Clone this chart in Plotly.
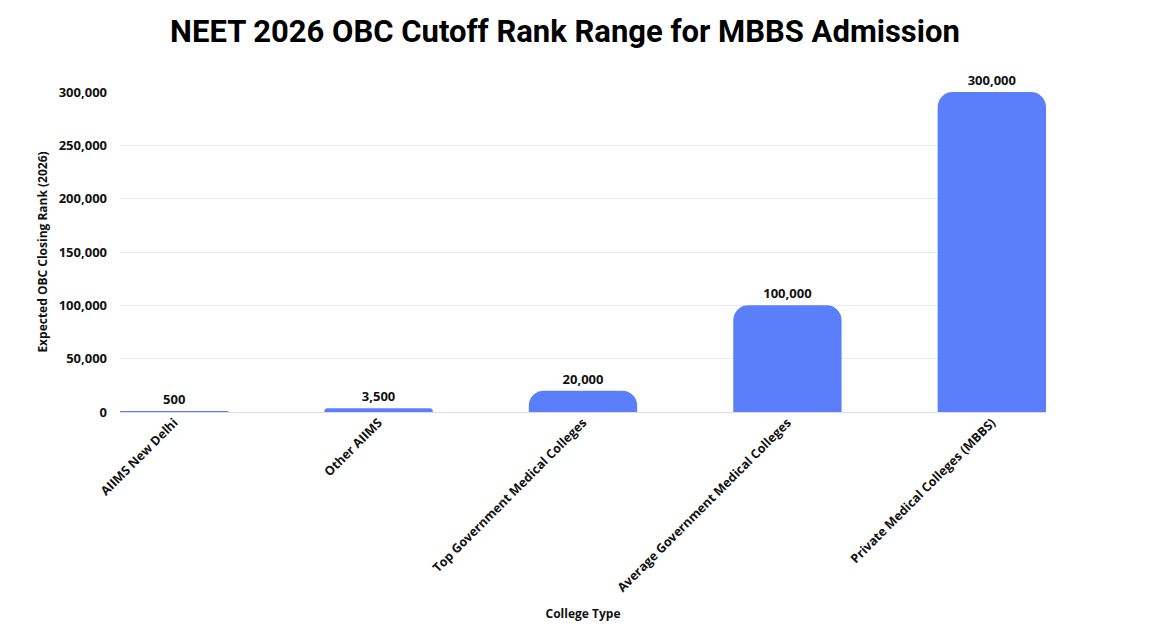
import plotly.graph_objects as go

categories = ["AIIMS New Delhi", "Other AIIMS", "Top Government Medical Colleges",
              "Average Government Medical Colleges", "Private Medical Colleges (MBBS)"]
closing_rank = [500, 3500, 20000, 100000, 300000]
y_ticks = [0, 50000, 100000, 150000, 200000, 250000, 300000]
y_tick_labels = ["0", "50,000", "100,000", "150,000", "200,000", "250,000", "300,000"]

bar_color = "#5b7ffa"
font_fam = "Open Sans"
bargap = 0.47
half = (1 - bargap) / 2

fig = go.Figure(go.Bar(
    x=list(range(len(categories))),
    y=closing_rank,
    marker=dict(color=bar_color, cornerradius=15, line=dict(width=0)),
    text=[f"{v:,}" for v in closing_rank],
    textposition="outside",
    cliponaxis=False,
    textfont=dict(family=font_fam, size=13, color="#111111", weight="bold"),
    hoverinfo="skip",
))

fig.update_layout(
    width=1162, height=627,
    paper_bgcolor="white", plot_bgcolor="white",
    margin=dict(l=120, r=116, t=92, b=215),
    bargap=bargap,
    showlegend=False,
    title=dict(text="NEET 2026 OBC Cutoff Rank Range for MBBS Admission",
               x=565 / 1162, xanchor="center", y=1 - 31 / 627, yanchor="middle",
               font=dict(family="Roboto", size=31, color="#000000", weight="bold")),
    xaxis=dict(
        automargin=False,
        tickmode="array", tickvals=list(range(len(categories))), ticktext=categories,
        tickangle=-45, range=[-half, len(categories) - 1 + half],
        showgrid=False, showline=False, zeroline=False, ticks="",
        tickfont=dict(family=font_fam, size=12.5, color="#111111", weight="bold"),
        title=dict(text="College Type", standoff=15,
                   font=dict(family=font_fam, size=12, color="#111111", weight="bold")),
    ),
    yaxis=dict(
        automargin=False,
        range=[0, 300000], tickmode="array", tickvals=y_ticks, ticktext=y_tick_labels,
        showgrid=True, gridcolor="#ebebeb", gridwidth=1,
        zeroline=True, zerolinecolor="#d5dcf3", zerolinewidth=1,
        showline=False, ticks="", ticklabelstandoff=12,
        tickfont=dict(family=font_fam, size=13, color="#111111", weight="bold"),
        title=dict(text="Expected OBC Closing Rank (2026)", standoff=8,
                   font=dict(family=font_fam, size=12, color="#111111", weight="bold")),
    ),
)

fig.write_html("out.html")
